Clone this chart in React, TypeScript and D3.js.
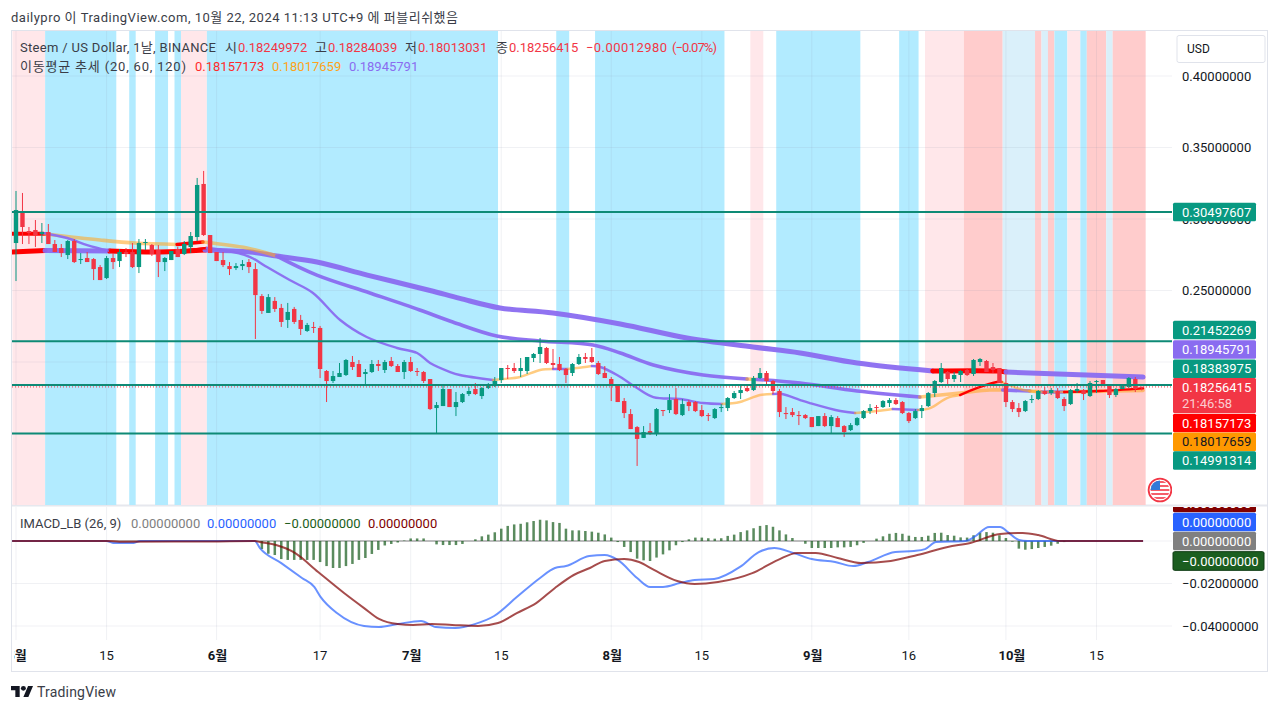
import React from "react";
import * as d3 from "d3";

const FONT = "Roboto, 'Noto Sans CJK KR', sans-serif";

// ---- daily candles (May 1 = day 0) ----
const candleDirection =
  "GRRRGRRRGR" + "GRRRGRGRRG" + "GRRGGRGGGR" + "RRRRGGRRRG" + "RRGRRGRRRG" +
  "GGRRGGRGRR" + "GRRRRGGRGG" + "GRGGGGRRGG" + "GGRRRRGGRR" + "RRRRRRRGRG" +
  "RGRGRRRRGG" + "GGGRGGRRRR" + "RRRRGRGRRG" + "GGGRGGRRRG" + "GGGGRGGRGG" +
  "RRRRRRGGGR" + "GRRGGRGGRR" + "GGGRR";

const bodyTop = [
  .3063,.3056,.2916,.2923,.2909,.2909,.2825,.2797,.2846,.2846,
  .2720,.2727,.2720,.2664,.2727,.2727,.2769,.2769,.2769,.2832,
  .2839,.2818,.2783,.2727,.2776,.2790,.2825,.2881,.3238,.3245,
  .2888,.2769,.2713,.2671,.2671,.2685,.2699,.2650,.2461,.2454,
  .2427,.2378,.2350,.2371,.2294,.2259,.2245,.2238,.1937,.1902,
  .1923,.2014,.2000,.1986,.1930,.1986,.1986,.2000,.2007,.1972,
  .2000,.2000,.1937,.1930,.1881,.1699,.1811,.1811,.1720,.1776,
  .1797,.1811,.1818,.1839,.1867,.1958,.1958,.1958,.1958,.2035,
  .2056,.2105,.2098,.1993,.1986,.1951,.1986,.2035,.2035,.2035,
  .1993,.1923,.1881,.1839,.1727,.1636,.1545,.1510,.1517,.1671,
  .1664,.1734,.1741,.1706,.1720,.1720,.1664,.1629,.1671,.1685,
  .1748,.1783,.1804,.1818,.1888,.1923,.1923,.1867,.1797,.1643,
  .1650,.1629,.1629,.1615,.1622,.1622,.1615,.1608,.1552,.1559,
  .1608,.1657,.1678,.1685,.1727,.1734,.1734,.1720,.1643,.1657,
  .1678,.1783,.1867,.1958,.1930,.1909,.1937,.1944,.2014,.2021,
  .2007,.1965,.1958,.1853,.1720,.1678,.1727,.1741,.1797,.1797,
  .1804,.1797,.1741,.1804,.1811,.1804,.1853,.1867,.1874,.1832,
  .1811,.1832,.1888,.1881,.18256,
];
const bodyBottom = [
  .2832,.2944,.2902,.2888,.2895,.2825,.2769,.2762,.2748,.2699,
  .2713,.2699,.2650,.2573,.2587,.2699,.2706,.2755,.2664,.2664,
  .2832,.2755,.2699,.2699,.2713,.2734,.2755,.2804,.2874,.2888,
  .2762,.2706,.2678,.2650,.2657,.2671,.2664,.2468,.2357,.2343,
  .2371,.2280,.2294,.2280,.2231,.2217,.2238,.1951,.1867,.1867,
  .1895,.1909,.1965,.1895,.1916,.1930,.1972,.1944,.1972,.1930,
  .1930,.1937,.1930,.1867,.1671,.1678,.1692,.1685,.1685,.1720,
  .1776,.1776,.1762,.1818,.1832,.1874,.1951,.1937,.1937,.1937,
  .2028,.2056,.1993,.1979,.1944,.1909,.1923,.1986,.2021,.2000,
  .1916,.1888,.1846,.1720,.1643,.1531,.1462,.1469,.1496,.1496,
  .1657,.1664,.1636,.1629,.1692,.1657,.1622,.1622,.1608,.1678,
  .1678,.1748,.1783,.1797,.1804,.1888,.1867,.1797,.1650,.1636,
  .1629,.1622,.1608,.1545,.1552,.1552,.1552,.1545,.1510,.1524,
  .1559,.1608,.1657,.1678,.1685,.1713,.1706,.1643,.1587,.1608,
  .1657,.1692,.1783,.1860,.1881,.1881,.1909,.1909,.1916,.2000,
  .1930,.1944,.1853,.1720,.1671,.1650,.1657,.1734,.1741,.1776,
  .1783,.1748,.1692,.1706,.1797,.1776,.1762,.1860,.1832,.1769,
  .1769,.1811,.1825,.1811,.18250,
];
const wickHigh = [
  .3196,.3182,.2944,.2993,.2972,.2965,.2853,.2825,.2853,.2860,
  .2762,.2769,.2727,.2678,.2741,.2762,.2790,.2797,.2832,.2860,
  .2860,.2825,.2818,.2734,.2776,.2804,.2846,.2909,.3287,.3336,
  .2888,.2769,.2769,.2699,.2692,.2713,.2720,.2692,.2475,.2475,
  .2454,.2406,.2413,.2385,.2329,.2273,.2280,.2252,.1944,.1937,
  .1993,.2021,.2042,.2014,.1951,.2014,.2014,.2014,.2035,.1986,
  .2014,.2035,.1958,.1937,.1881,.1720,.1832,.1811,.1790,.1783,
  .1825,.1853,.1825,.1853,.1895,.1958,.1979,.1993,.2028,.2035,
  .2063,.2168,.2105,.2091,.2035,.1958,.1993,.2056,.2063,.2098,
  .2007,.1972,.1895,.1839,.1748,.1671,.1552,.1552,.1573,.1678,
  .1664,.1776,.1818,.1741,.1734,.1727,.1699,.1643,.1678,.1706,
  .1755,.1797,.1832,.1832,.1902,.1958,.1937,.1874,.1811,.1685,
  .1678,.1657,.1636,.1615,.1622,.1643,.1629,.1622,.1559,.1573,
  .1615,.1664,.1706,.1699,.1734,.1748,.1748,.1727,.1650,.1671,
  .1699,.1790,.1874,.1993,.1937,.1930,.1944,.1958,.2021,.2028,
  .2014,.1993,.1958,.1909,.1734,.1713,.1734,.1769,.1804,.1825,
  .1818,.1818,.1755,.1811,.1853,.1811,.1867,.1874,.1874,.1839,
  .1818,.1832,.1895,.1895,.18284,
];
const wickLow = [
  .2566,.2825,.2825,.2804,.2832,.2825,.2769,.2734,.2720,.2692,
  .2685,.2699,.2573,.2573,.2580,.2650,.2664,.2734,.2657,.2622,
  .2783,.2741,.2594,.2636,.2713,.2734,.2748,.2762,.2846,.2881,
  .2762,.2706,.2664,.2608,.2643,.2643,.2622,.2161,.2336,.2343,
  .2350,.2245,.2238,.2266,.2189,.2210,.2203,.1888,.1720,.1853,
  .1895,.1902,.1944,.1895,.1846,.1923,.1937,.1923,.1965,.1930,
  .1881,.1930,.1902,.1853,.1664,.1503,.1692,.1685,.1622,.1713,
  .1762,.1769,.1741,.1811,.1825,.1853,.1881,.1923,.1895,.1916,
  .2000,.1993,.1986,.1951,.1937,.1853,.1902,.1979,.1993,.1993,
  .1909,.1888,.1727,.1720,.1608,.1531,.1273,.1469,.1490,.1482,
  .1622,.1643,.1629,.1622,.1657,.1650,.1615,.1587,.1601,.1650,
  .1657,.1741,.1741,.1790,.1797,.1881,.1839,.1776,.1615,.1601,
  .1615,.1559,.1601,.1545,.1552,.1545,.1503,.1545,.1476,.1517,
  .1552,.1601,.1636,.1636,.1678,.1685,.1699,.1636,.1573,.1601,
  .1608,.1685,.1755,.1853,.1832,.1860,.1860,.1902,.1902,.1972,
  .1930,.1923,.1853,.1685,.1650,.1615,.1650,.1713,.1734,.1769,
  .1769,.1741,.1657,.1699,.1783,.1734,.1755,.1783,.1832,.1748,
  .1755,.1811,.1818,.1790,.18013,
];

// ---- moving averages: day, value and trend state per segment (r/p/t) ----
const ma120Days = [-0.6,4.5,14.5,22.3,29.2,36.2,40.3,46.5,54.3,64,68.6,74.8,83,93.4,103.7,113.9,121.2,130,141.7,151.6,153,174.2];
const ma120Values = [.2769,.2780,.2776,.2769,.2783,.2769,.2741,.2699,.2608,.2500,.2445,.2378,.2343,.2266,.2168,.2105,.2063,.1993,.1937,.1937,.1930,.18946];
const ma120Trend = "rprr" + "pppppppppppppp" + "rr" + "p";

const ma60Days = [-0.6,4.5,13,18.4,24.9,28.9,35.7,40.3,46.5,54.7,62.4,67.5,74.3,81,89.2,93.4,98.5,106.2,113,114.5,121.2,130,139.7,145.9,150.5,152.5,156.7,158.5,162,166,174.2];
const ma60Values = [.2895,.2895,.2853,.2832,.2822,.2839,.2797,.2741,.2608,.2483,.2364,.2280,.2182,.2147,.2119,.2063,.1979,.1909,.1881,.1878,.1853,.1797,.1755,.1783,.1804,.1804,.1797,.1790,.1790,.1794,.18018];
const ma60Trend = "rtttrtt" + "ppppppppppp" + "t" + "ppp" + "ttt" + "p" + "t" + "p" + "tt";

const ma20Days = [-0.6,4.2,7.9,11,14.5,20.7,24.9,26.9,29.5,33.5,36.2,38.8,42.3,45.9,50.1,54.2,58.9,62,64,67.1,68.6,73.7,75.3,77.9,81,83,85.2,86.7,89,90.3,92.9,96,98.5,102.6,106.2,109.1,111.9,115,117,118.4,121.2,122.7,127.4,129.7,133,135.5,139.4,141.3,143.9,145.9,148.5,151.6,152.4,154.7,156.7,162,167.5,174.2];
const ma20Values = [.2902,.2902,.2867,.2818,.2776,.2769,.2769,.2783,.2797,.2769,.2734,.2664,.2573,.2483,.2294,.2175,.2098,.2063,.1993,.1930,.1909,.1874,.1881,.1895,.1944,.1951,.1951,.1958,.1972,.1965,.1909,.1818,.1755,.1741,.1713,.1706,.1720,.1769,.1776,.1776,.1734,.1713,.1657,.1643,.1657,.1671,.1664,.1678,.1748,.1769,.1818,.1860,.1860,.1818,.1797,.1790,.1797,.18157];
const ma20Trend = "r" + "ppp" + "rrrr" + "ppppppppppppp" + "tttt" + "p" + "tt" + "ppppppp" + "ttt" + "ppppp" + "tt" + "p" + "ttt" + "rrr" + "ttt" + "rr";

// ---- background bands: edges in days, kind between edges ----
const bandEdges = [-0.55,4.5,15.5,17.5,18.5,21.5,23.5,24.5,25.5,29.5,74.5,83.5,85.5,89.5,109.5,113.5,115.5,117.5,130.5,136.5,139.5,140.5,146.5,152.5,157.5,158.5,159.5,160.5,162.5,164.5,165.5,168.5,169.5,174.6];
const bandKinds = ["pink","blue","none","blue","none","blue","none","blue","pink","blue","none","blue","none","blue","none","pink","none","blue","none","blue","none","pink","red","pale","red","pale","red","blue","pink","blue","red","pale","red"];

// ---- horizontal levels and axes ----
const levelPrices = [0.30497607, 0.21452269, 0.18383975, 0.14991314];
const lastPrice = 0.18256415;
const priceGrid = [0.4, 0.35, 0.3, 0.25, 0.2, 0.15];
const priceLabels = [0.4, 0.35, 0.3, 0.25];
const macdTicks = [0, -0.02, -0.04];
const timeTickDays = [0, 14, 31, 47, 61, 75, 92, 106, 123, 138, 153, 167];
const timeTickLabels = ["5월", "15", "6월", "17", "7월", "15", "8월", "15", "9월", "16", "10월", "15"];
const timeTickMonth = [true, false, true, false, true, false, true, false, true, false, true, false];

// ---- MACD pane ----
const macdDays = [-0.6,14,15,18.2,19.2,36.9,37.7,41,44.2,46.1,47.1,49.6,53.8,56.1,59,62.6,64.9,67.9,70.9,73.9,77.4,81,83.3,85,88.6,91,93,96,98,100,102.6,104.9,107.9,111.9,114.8,117.2,120.1,123,126.6,129.4,131.7,135.9,138.8,140.5,142.2,146.8,148.1,150.4,152.1,153.3,155,156.3,174.2];
const macdValues = [0,0,-.0009,-.0009,0,0,-.0033,-.0104,-.0174,-.0216,-.0264,-.0339,-.0400,-.0405,-.0391,-.0376,-.0405,-.0409,-.0391,-.0353,-.0264,-.0174,-.0127,-.0118,-.0071,-.0066,-.0089,-.0174,-.0216,-.0216,-.0198,-.0184,-.0179,-.0122,-.0052,-.0033,-.0056,-.0085,-.0099,-.0118,-.0099,-.0052,-.0047,-.0038,-.0005,0,.0019,.0066,.0066,.0042,.0005,0,0];
const signalDays = [-0.6,14,16,30,36.9,37.7,40.2,43.1,46.7,50.7,53.8,56.1,59,61.4,64.3,67.4,71.4,74.5,77.4,80.4,83.3,86.2,88.7,91,94,96.3,98.6,102.2,104.9,108.5,113.8,117.8,120.7,123.6,127,130.6,135.2,139.3,144,147.5,152.1,155.6,158,161.4,174.2];
const signalValues = [0,0,-.0003,-.0002,0,-.0005,-.0019,-.0056,-.0146,-.0245,-.0316,-.0367,-.0391,-.0395,-.0391,-.0395,-.0400,-.0386,-.0339,-.0292,-.0221,-.0160,-.0127,-.0094,-.0085,-.0099,-.0136,-.0188,-.0202,-.0193,-.0151,-.0089,-.0056,-.0056,-.0080,-.0104,-.0094,-.0066,-.0028,-.0009,.0033,.0038,.0028,0,0];
const histStartDay = 38;
const histValues = [
  -.0038,-.0060,-.0066,-.0085,-.0089,-.0089,-.0089,-.0089,-.0089,-.0099,
  -.0118,-.0127,-.0127,-.0118,-.0108,-.0089,-.0080,-.0061,-.0042,-.0021,
  -.0014,-.0007,.0002,.0012,.0012,.0012,0,-.0016,-.0019,-.0019,
  -.0019,-.0014,0,.0008,.0022,.0030,.0041,.0058,.0071,.0078,
  .0081,.0088,.0094,.0100,.0097,.0089,.0085,.0058,.0050,.0050,
  .0047,.0044,.0039,.0031,.0016,-.0005,-.0028,-.0052,-.0083,-.0091,
  -.0094,-.0078,-.0063,-.0044,-.0020,-.0005,.0008,.0016,.0016,.0013,
  .0011,.0013,.0024,.0030,.0042,.0050,.0060,.0071,.0075,.0067,
  .0050,.0031,.0014,0,-.0013,-.0033,-.0033,-.0033,-.0033,-.0030,
  -.0030,-.0028,-.0020,-.0009,0,.0011,.0022,.0034,.0038,.0034,
  .0025,.0019,.0019,.0025,.0038,.0039,.0028,.0025,.0017,.0016,
  .0027,.0039,.0042,.0039,.0027,.0014,-.0003,-.0036,-.0041,-.0038,
  -.0033,-.0028,-.0022,-.0013,-.0005,
];

// ---- scales ----
const xDay = d3.scaleLinear().domain([0, 174]).range([16, 16 + 6.47 * 174]);
const yPrice = d3.scaleLinear().domain([0.15, 0.4]).range([433.5, 76]);
const yMacd = d3.scaleLinear().domain([0, -0.04]).range([541, 626]);
const smooth = d3.curveCatmullRom.alpha(0.5);

const UP = "#089981";
const DOWN = "#F23645";
const trendColor: Record<string, string> = { r: "#FF0000", p: "#8A6CF0", t: "#FFA726" };
const trendOpacity: Record<string, number> = { r: 1, p: 0.95, t: 0.58 };
const bandColor: Record<string, string> = { pink: "#FFE7EA", blue: "#B2EBFF", red: "#FFCCCC", pale: "#DAF0FA" };

function maRuns(days: number[], values: number[], trend: string, width: number, key: string) {
  const gen = d3.line<number>().x((i) => xDay(days[i])).y((i) => yPrice(values[i])).curve(smooth);
  const runs: React.ReactNode[] = [];
  let start = 0;
  for (let k = 1; k <= trend.length; k++) {
    if (k === trend.length || trend[k] !== trend[start]) {
      const idx = d3.range(start, k + 1);
      runs.push(
        <path key={key + start} d={gen(idx) || ""} fill="none" stroke={trendColor[trend[start]]}
          strokeOpacity={trendOpacity[trend[start]]} strokeWidth={width} strokeLinecap="round" strokeLinejoin="round" />
      );
      start = k;
    }
  }
  return runs;
}

function Tag({ y, h = 18.7, w = 83, fill, color = "#fff", text, text2, stroke }: any) {
  return (
    <g>
      <rect x={1173} y={y - h / 2} width={w} height={h} rx={1.5} fill={fill} stroke={stroke} />
      <text x={1182} y={text2 ? y - 8 : y} dominantBaseline="central" fill={color} fontSize={13}>{text}</text>
      {text2 && <text x={1182} y={y + 8} dominantBaseline="central" fill={color} fillOpacity={0.75} fontSize={13}>{text2}</text>}
    </g>
  );
}

export default function App() {
  const macdLine = d3.line<number>().x((_, i) => xDay(macdDays[i])).y((v) => yMacd(v)).curve(d3.curveMonotoneX);
  const signalLine = d3.line<number>().x((_, i) => xDay(signalDays[i])).y((v) => yMacd(v)).curve(d3.curveMonotoneX);
  const fmt = d3.format(".8f");
  const plotR = 1172;

  return (
    <svg width={1280} height={712} style={{ position: "fixed", left: 0, top: 0, background: "#fff", display: "block" }} fontFamily={FONT}>
      <defs>
        <clipPath id="pricePane"><rect x={12} y={31} width={plotR - 12} height={474} /></clipPath>
        <clipPath id="macdPane"><rect x={12} y={507} width={plotR - 12} height={133} /></clipPath>
        <clipPath id="timeAxis"><rect x={14} y={640} width={plotR - 14} height={30} /></clipPath>
        <clipPath id="lowerScale"><rect x={1173} y={507} width={100} height={130} /></clipPath>
        <clipPath id="flag"><rect x={1140} y={470} width={32} height={34} /></clipPath>
        <clipPath id="flagDisc"><circle cx={1160} cy={490} r={9.5} /></clipPath>
      </defs>

      <text x={11} y={17} dominantBaseline="central" fontSize={13} fill="#3a3d47" textLength={447}>dailypro 이 TradingView.com, 10월 22, 2024 11:13 UTC+9 에 퍼블리쉬했음</text>

      {/* frame */}
      <rect x={11.5} y={30.5} width={1256} height={641} fill="#fff" stroke="#E0E3EB" />
      <rect x={12} y={504.5} width={1255} height={2} fill="#E6E8EE" />

      {/* price pane */}
      <g clipPath="url(#pricePane)">
        {bandKinds.map((k, i) =>
          k === "none" ? null : (
            <rect key={i} x={xDay(bandEdges[i])} y={31} width={xDay(bandEdges[i + 1]) - xDay(bandEdges[i])} height={474} fill={bandColor[k]} />
          )
        )}
        {priceGrid.map((t) => (
          <line key={t} x1={12} x2={plotR} y1={yPrice(t)} y2={yPrice(t)} stroke="#8a94a8" strokeOpacity={0.13} />
        ))}
        {timeTickDays.map((d) => (
          <line key={d} x1={xDay(d)} x2={xDay(d)} y1={31} y2={505} stroke="#8a94a8" strokeOpacity={0.13} />
        ))}
        {maRuns(ma120Days, ma120Values, ma120Trend, 5, "a")}
        {maRuns(ma60Days, ma60Values, ma60Trend, 3.6, "b")}
        {maRuns(ma20Days, ma20Values, ma20Trend, 2.4, "c")}
        {candleDirection.split("").map((c, i) => {
          const col = c === "G" ? UP : DOWN;
          const x = xDay(i);
          const t = yPrice(bodyTop[i]);
          const b = yPrice(bodyBottom[i]);
          return (
            <g key={i}>
              <line x1={x} x2={x} y1={yPrice(wickHigh[i])} y2={yPrice(wickLow[i])} stroke={col} strokeWidth={1} />
              <rect x={x - 2.2} y={t} width={4.4} height={Math.max(b - t, 1)} fill={col} />
            </g>
          );
        })}
        {levelPrices.map((p) => (
          <line key={p} x1={12} x2={plotR} y1={yPrice(p)} y2={yPrice(p)} stroke="#0E8A76" strokeWidth={2} />
        ))}
        <line x1={12} x2={plotR} y1={yPrice(lastPrice)} y2={yPrice(lastPrice)} stroke={DOWN} strokeWidth={1} strokeDasharray="1 2" />
      </g>

      {/* flag badge */}
      <g clipPath="url(#flag)">
        <circle cx={1160} cy={490} r={11.4} fill="#fff" stroke={DOWN} strokeWidth={1.8} />
        <g clipPath="url(#flagDisc)">
          {d3.range(5).map((i) => (
            <rect key={i} x={1150} y={481 + i * 4} width={20} height={2} fill={DOWN} fillOpacity={0.8} />
          ))}
          <rect x={1150} y={480} width={10} height={10} fill="#3179D8" />
        </g>
      </g>

      {/* legend */}
      <g fontSize={13} dominantBaseline="central">
        <text x={20} y={47} fill="#3a3d47" textLength={196}>Steem / US Dollar, 1날, BINANCE</text>
        <text x={225} y={47} fill="#3a3d47">시</text>
        <text x={238} y={47} fill={DOWN}>0.18249972</text>
        <text x={315} y={47} fill="#3a3d47">고</text>
        <text x={328} y={47} fill={DOWN}>0.18284039</text>
        <text x={405} y={47} fill="#3a3d47">저</text>
        <text x={418} y={47} fill={DOWN}>0.18013031</text>
        <text x={496} y={47} fill="#3a3d47">종</text>
        <text x={509} y={47} fill={DOWN}>0.18256415</text>
        <text x={586} y={47} fill={DOWN} textLength={81}>−0.00012980</text>
        <text x={672} y={47} fill={DOWN} textLength={45}>(−0.07%)</text>
        <text x={20} y={66} fill="#3a3d47" textLength={166}>이동평균 추세 (20, 60, 120)</text>
        <text x={195} y={66} fill="#FF2B2B">0.18157173</text>
        <text x={272} y={66} fill="#FFA31A">0.18017659</text>
        <text x={349} y={66} fill="#8A6CF0">0.18945791</text>
      </g>

      {/* price scale */}
      <g fontSize={13} fill="#131722" dominantBaseline="central">
        {priceLabels.map((t) => (
          <text key={t} x={1182} y={yPrice(t)}>{fmt(t)}</text>
        ))}
      </g>
      <rect x={1177} y={35.5} width={88} height={27} rx={2} fill="#fff" stroke="#E0E3EB" />
      <text x={1187} y={49} fontSize={12} fill="#131722" dominantBaseline="central">USD</text>
      <Tag y={212} fill={UP} text="0.30497607" />
      <Tag y={330} fill={UP} text="0.21452269" />
      <Tag y={349.5} fill="#8A6CF0" text="0.18945791" />
      <Tag y={368.8} fill={UP} text="0.18383975" />
      <Tag y={395.5} h={35} fill={DOWN} text="0.18256415" text2="21:46:58" />
      <Tag y={423} fill="#FF0000" text="0.18157173" />
      <Tag y={441.8} fill="#FF9800" color="#131722" text="0.18017659" />
      <Tag y={460.5} fill={UP} text="0.14991314" />

      {/* macd pane */}
      <g clipPath="url(#macdPane)">
        {macdTicks.map((t) => (
          <line key={t} x1={12} x2={plotR} y1={yMacd(t)} y2={yMacd(t)} stroke="#8a94a8" strokeOpacity={0.13} />
        ))}
        {timeTickDays.map((d) => (
          <line key={d} x1={xDay(d)} x2={xDay(d)} y1={507} y2={640} stroke="#8a94a8" strokeOpacity={0.13} />
        ))}
        <line x1={xDay(-0.6)} x2={xDay(174.2)} y1={yMacd(0)} y2={yMacd(0)} stroke="#808080" strokeWidth={1} />
        {histValues.map((v, i) => {
          const x = xDay(histStartDay + i);
          const a = yMacd(0);
          const b = yMacd(v);
          return <rect key={i} x={x - 1.25} y={Math.min(a, b)} width={2.5} height={Math.abs(a - b)} fill="#1B5E20" fillOpacity={0.72} />;
        })}
        <path d={macdLine(macdValues) || ""} fill="none" stroke="#2962FF" strokeOpacity={0.7} strokeWidth={2} />
        <path d={signalLine(signalValues) || ""} fill="none" stroke="#800000" strokeOpacity={0.7} strokeWidth={2} />
      </g>
      <g fontSize={13} dominantBaseline="central">
        <text x={20} y={523} fill="#3a3d47">IMACD_LB (26, 9)</text>
        <text x={131} y={523} fill="#808080">0.00000000</text>
        <text x={207} y={523} fill="#2962FF">0.00000000</text>
        <text x={284} y={523} fill="#1B5E20">−0.00000000</text>
        <text x={368} y={523} fill="#800000">0.00000000</text>
      </g>
      <g clipPath="url(#lowerScale)">
        <Tag y={503} fill="#800000" text="0.00000000" />
      </g>
      <Tag y={522} fill="#2962FF" text="0.00000000" />
      <Tag y={541} fill="#808080" text="0.00000000" />
      <Tag y={561} w={91} fill="#1B5E20" stroke="#0F3D13" text="−0.00000000" />
      <g fontSize={13} fill="#131722" dominantBaseline="central">
        {macdTicks.slice(1).map((t) => (
          <text key={t} x={1182} y={yMacd(t)}>{"−" + fmt(-t)}</text>
        ))}
      </g>

      {/* time axis */}
      <g clipPath="url(#timeAxis)" fontSize={13} fill="#131722" textAnchor="middle" dominantBaseline="central">
        {timeTickDays.map((d, i) => (
          <text key={i} x={xDay(d) + (timeTickLabels[i].length > 2 ? 6 : timeTickMonth[i] ? 1 : 0)} y={655} fontWeight={timeTickMonth[i] ? 700 : 400}>
            {timeTickLabels[i]}
          </text>
        ))}
      </g>

      {/* footer */}
      <g transform="translate(11,683.4) scale(0.62)" fill="#131722">
        <path d="M14 22H7V11H0V4h14v18zM28 22h-8l7.5-18h8L28 22z" />
        <circle cx={20} cy={8} r={4} />
      </g>
      <text x={37} y={692} fontSize={14} fill="#3a3d47" dominantBaseline="central" textLength={79}>TradingView</text>
    </svg>
  );
}
